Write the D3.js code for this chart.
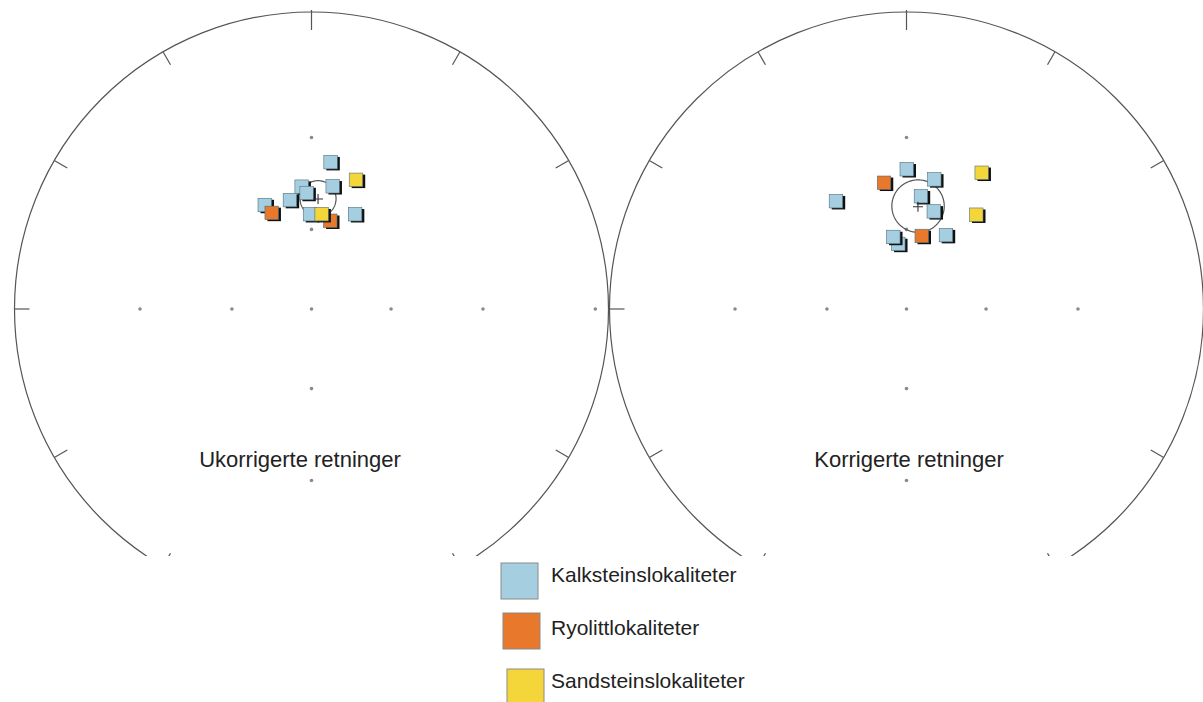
<!DOCTYPE html>
<html>
<head>
<meta charset="utf-8">
<script src="https://cdn.jsdelivr.net/npm/d3@7"></script>
<style>
  html, body { margin: 0; padding: 0; background: #fff; }
  svg { display: block; }
  text { font-family: "Liberation Sans", Arial, sans-serif; fill: #222; }
</style>
</head>
<body>
<svg id="chart" width="1203" height="702"></svg>
<script>
// Site categories (legend order)
const categories = ["Kalksteinslokaliteter", "Ryolittlokaliteter", "Sandsteinslokaliteter"];
const categoryColors = ["#a5cfe0", "#e8782c", "#f5d63a"];

// Site mean directions before tilt correction: [declination, inclination, category]
const ukorrigerte = [
  [7.4, 37.0, 0],
  [9.8, 44.5, 0],
  [355.4, 45.1, 0],
  [357.6, 47.3, 0],
  [348.8, 49.0, 0],
  [335.8, 48.0, 0],
  [359.1, 54.6, 0],
  [24.7, 51.3, 0],
  [337.5, 51.4, 1],
  [12.0, 56.2, 1],
  [19.0, 40.6, 2],
  [6.1, 54.4, 2]
];

// Site mean directions after tilt correction
const korrigerte = [
  [0.1, 39.6, 0],
  [12.1, 41.9, 0],
  [326.8, 43.1, 0],
  [7.3, 48.1, 0],
  [15.6, 52.3, 0],
  [352.8, 65.1, 0],
  [349.6, 62.3, 0],
  [28.1, 58.5, 0],
  [349.9, 43.3, 1],
  [11.8, 61.8, 1],
  [28.9, 34.7, 2],
  [36.5, 46.9, 2]
];

// Overall means with alpha-95 confidence circles: [declination, inclination, a95]
const meanUkorrigerte = [3.4, 49.3, 6.1];
const meanKorrigerte = [6.4, 51.8, 9.0];

// Reference marks inside the net: [declination, inclination]
const gridMarks = [
  [0, 90],
  [0, 60], [0, 30],
  [90, 60], [90, 30],
  [180, 60], [180, 30],
  [270, 60], [270, 30]
];
const gridMarksExtraLeft = [[90, 2.6]];

// Primitive circle ticks (degrees clockwise from north)
const ticksLeft = [0, 30, 60, 120, 150, 210, 240, 270, 300, 330];
const ticksRight = [0, 30, 60, 120, 150, 210, 240, 270, 300, 330];

const titles = ["Ukorrigerte retninger", "Korrigerte retninger"];

// ---- layout ----
const W = 1203, H = 702;
const R = 297;
const CY = 309;
const svg = d3.select("#chart");

svg.append("defs").append("clipPath").attr("id", "netClip")
  .append("rect").attr("x", 0).attr("y", 0).attr("width", W).attr("height", 556);

// Stereographic (equal-angle) lower-hemisphere projection built on linear scales
function makeProjection(cx, cy) {
  const x = d3.scaleLinear().domain([-1, 1]).range([cx - R, cx + R]);
  const y = d3.scaleLinear().domain([-1, 1]).range([cy + R, cy - R]);
  return (dec, inc) => {
    const r = Math.tan((90 - inc) * Math.PI / 360);
    const a = dec * Math.PI / 180;
    return [x(r * Math.sin(a)), y(r * Math.cos(a))];
  };
}

function drawNet(cx, data, mean, ticks, extraMarks, title, titleX) {
  const proj = makeProjection(cx, CY);
  const g = svg.append("g").attr("clip-path", "url(#netClip)");

  // primitive circle
  g.append("circle")
    .attr("cx", cx).attr("cy", CY).attr("r", R)
    .attr("fill", "none").attr("stroke", "#555").attr("stroke-width", 1.2);

  // ticks
  g.selectAll("line.tick").data(ticks).enter().append("line")
    .attr("class", "tick")
    .each(function (a) {
      const t = a * Math.PI / 180;
      const r0 = a === 0 ? R + 2 : R;
      const r1 = a === 0 ? R - 18 : R - 15;
      d3.select(this)
        .attr("x1", cx + r0 * Math.sin(t)).attr("y1", CY - r0 * Math.cos(t))
        .attr("x2", cx + r1 * Math.sin(t)).attr("y2", CY - r1 * Math.cos(t));
    })
    .attr("stroke", "#555").attr("stroke-width", 1.2);

  // reference marks
  g.selectAll("circle.mark").data(gridMarks.concat(extraMarks)).enter().append("circle")
    .attr("class", "mark")
    .attr("cx", d => proj(d[0], d[1])[0])
    .attr("cy", d => proj(d[0], d[1])[1])
    .attr("r", 1.8)
    .attr("fill", "#8a8a8a");

  // alpha-95 circle around the mean
  const ring = d3.geoCircle().center([mean[0], mean[1]]).radius(mean[2]).precision(2)();
  const pts = ring.coordinates[0].map(c => proj(c[0], c[1]));
  g.append("path")
    .attr("d", d3.line().curve(d3.curveLinearClosed)(pts))
    .attr("fill", "none").attr("stroke", "#555").attr("stroke-width", 1.2);

  // site squares with dark edge offset
  const s = 13.5;
  const sites = g.selectAll("g.site").data(data).enter().append("g")
    .attr("class", "site")
    .attr("transform", d => {
      const p = proj(d[0], d[1]);
      return `translate(${p[0]},${p[1]})`;
    });
  sites.append("rect")
    .attr("x", -s / 2 + 2.5).attr("y", -s / 2 + 1.5)
    .attr("width", s).attr("height", s)
    .attr("fill", "#111");
  sites.append("rect")
    .attr("x", -s / 2).attr("y", -s / 2)
    .attr("width", s).attr("height", s)
    .attr("fill", d => categoryColors[d[2]])
    .attr("stroke", "#4f6f7c").attr("stroke-width", 0.6);

  // mean cross
  const m = proj(mean[0], mean[1]);
  g.append("path")
    .attr("d", `M${m[0] - 5},${m[1]}H${m[0] + 5}M${m[0]},${m[1] - 5}V${m[1] + 5}`)
    .attr("stroke", "#333").attr("stroke-width", 1.1);

  svg.append("text")
    .attr("x", titleX).attr("y", 467)
    .attr("text-anchor", "middle")
    .attr("font-size", 22)
    .text(title);
}

// draw sites by category so later categories sit on top
const byCategory = arr => arr.slice().sort((a, b) => a[2] - b[2]);

drawNet(311.5, byCategory(ukorrigerte), meanUkorrigerte, ticksLeft, gridMarksExtraLeft, titles[0], 300);
drawNet(906.5, korrigerte, meanKorrigerte, ticksRight, [], titles[1], 909);

// ---- legend ----
const legendY = d3.scalePoint().domain(categories).range([563, 669]);
const legend = svg.append("g");
const items = legend.selectAll("g").data(categories).enter().append("g")
  .attr("transform", d => `translate(0,${legendY(d)})`);
items.append("rect")
  .attr("x", (d, i) => [501, 503, 507][i])
  .attr("y", (d, i) => [0, -3, 0][i])
  .attr("width", 37).attr("height", 36)
  .attr("fill", (d, i) => categoryColors[i])
  .attr("stroke", "#8a8a8a").attr("stroke-width", 1);
items.append("text")
  .attr("x", 551)
  .attr("y", 19)
  .attr("font-size", 21)
  .text(d => d);
</script>
</body>
</html>
